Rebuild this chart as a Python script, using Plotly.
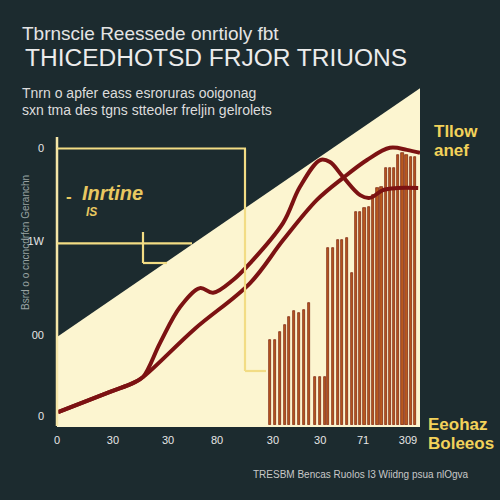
import plotly.graph_objects as go

# ---------------- data ----------------
x_ticks = [0, 15.4, 30.6, 44.1, 59.5, 72.5, 84.3, 96.7]
x_tick_labels = ["0", "30", "30", "80", "30", "30", "71", "309"]
y_ticks = [2.5, 26.5, 54.5, 82]
y_tick_labels = ["0", "00", "1W", "0"]

area_x = [0, 100]
area_y = [26, 99.6]

bar_x = [58.7, 60.1, 61.4, 62.8, 64.0, 65.4, 66.7, 68.1, 69.5, 71.1, 72.5, 73.8,
         74.7, 76.0, 77.5, 78.6, 79.8, 81.2, 82.4, 83.5, 84.7, 86.0, 87.1, 88.3,
         89.4, 90.6, 91.7, 92.9, 94.0, 95.2, 96.3, 97.5, 98.6]
bar_y = [25.1, 25.1, 27.5, 29.6, 32.0, 33.7, 33.1, 34.0, 36.1, 14.2, 14.2, 14.2,
         52.4, 52.4, 54.7, 54.7, 55.3, 45.0, 63.0, 63.0, 64.2, 64.5, 68.0, 70.1,
         70.4, 76.0, 76.0, 76.0, 79.9, 80.5, 79.9, 79.3, 79.3]

line_a_x = [0.3, 14.6, 20.9, 23.7, 28.4, 33.9, 39.4, 43.0, 48.5, 53.2, 62.3, 66.9,
            72.5, 75.2, 78.8, 83.5, 86.2, 89.8, 93.7, 99.5]
line_a_y = [3.8, 9.8, 12.4, 14.2, 24.3, 34.9, 40.5, 39.1, 42.9, 47.9, 59.8, 70.4,
            78.4, 77.8, 73.4, 68.0, 67.2, 69.5, 70.1, 70.1]
line_b_x = [0.3, 14.6, 20.9, 23.7, 38.0, 53.2, 62.3, 71.6, 78.8, 85.4, 91.7, 96.4, 100]
line_b_y = [3.8, 9.8, 12.4, 14.2, 28.5, 42.0, 54.7, 66.6, 73.1, 78.4, 82.0, 81.4, 80.5]

# ---------------- style ----------------
BG = "#1c2b2f"
CREAM = "#fcf5d0"
YEL = "#f2dc84"
GOLD = "#f2d25a"
RED = "#7c1212"
NARROW = "Liberation Sans Narrow, Liberation Sans, Arial, sans-serif"
SANS = "Liberation Sans, Arial, sans-serif"

L, R, T, B = 57, 420, 87, 425
def PX(p):
    return (p - L) / (R - L)
def PY(p):
    return (B - p) / (B - T)

fig = go.Figure()
fig.add_trace(go.Bar(x=bar_x, y=bar_y, width=0.6,
                     marker=dict(color="#b8591f", line=dict(color="#751a0c", width=0.7))))
fig.add_trace(go.Scatter(x=line_b_x, y=line_b_y, mode="lines",
                         line=dict(color=RED, width=4, shape="spline", smoothing=1.0)))
fig.add_trace(go.Scatter(x=line_a_x, y=line_a_y, mode="lines",
                         line=dict(color=RED, width=4, shape="spline", smoothing=1.0)))

# cream area (drawn below the traces) built from area data
area_path = "M {0},0 L {0},{1} L {2},{3} L {2},0 Z".format(area_x[0], area_y[0], area_x[1], area_y[1])
shapes = [dict(type="path", xref="x", yref="y", path=area_path,
               fillcolor=CREAM, line=dict(width=0), layer="below")]

def seg(x0, y0, x1, y1, color=YEL, w=2.2):
    shapes.append(dict(type="line", xref="paper", yref="paper",
                       x0=PX(x0), y0=PY(y0), x1=PX(x1), y1=PY(y1),
                       line=dict(color=color, width=w), layer="above"))
seg(57, 137, 57, 426, color="#f5e6a8", w=2.5)   # y axis line
seg(57, 148.5, 246, 148.5)
seg(245, 148.5, 245, 371)
seg(245, 371, 266, 371)
seg(57, 243.3, 192, 243.3)
seg(143, 232, 143, 263)
seg(143, 263, 167, 263)

ann = []
def txt(text, x, y, size, color, family=SANS, xanchor="left", angle=0, **kw):
    ann.append(dict(text=text, x=PX(x), y=PY(y), xref="paper", yref="paper",
                    xanchor=xanchor, yanchor="middle", showarrow=False, textangle=angle,
                    font=dict(size=size, color=color, family=family), **kw))

txt("Tbrnscie Reessede onrtioly fbt", 20, 34, 19, "#e4e4e4")
txt("THICEDHOTSD FRJOR TRIUONS", 23, 58, 24.5, "#ececec", family=NARROW)
txt("Tnrn o apfer eass esroruras ooigonag", 20, 93, 14, "#dcdcdc")
txt("sxn tma des tgns stteoler freljin gelrolets", 20, 110, 14, "#dcdcdc")
txt("Bsrd o o cncncdrfcn Geranchn", 25, 243, 10, "#9aa3a3", xanchor="center", angle=-90)
txt("<b>Tllow</b>", 432, 131, 17, GOLD, family=NARROW)
txt("<b>anef</b>", 432, 150, 17, GOLD, family=NARROW)
txt("<b>Eeohaz</b>", 426, 424, 17, GOLD, family=NARROW)
txt("<b>Boleeos</b>", 426, 443, 17, GOLD, family=NARROW)
txt("<b>-</b>", 64, 196, 17, "#e8c860", family=NARROW)
txt("<b><i>Inrtine</i></b>", 80, 193, 20, "#e8c860", family=NARROW)
txt("<b><i>IS</i></b>", 84, 212, 12, "#e8c860", family=NARROW)
txt("TRESBM Bencas Ruolos I3 Wiidng psua nlOgva", 251, 474, 10, "#c8c8c8")

fig.update_layout(
    width=500, height=500,
    paper_bgcolor=BG, plot_bgcolor=BG,
    margin=dict(l=L, r=500 - R, t=T, b=500 - B, pad=0),
    showlegend=False, bargap=0,
    shapes=shapes, annotations=ann,
    xaxis=dict(range=[0, 100], tickvals=x_ticks, ticktext=x_tick_labels, automargin=False,
               showgrid=False, zeroline=False, showline=True, linecolor=CREAM, linewidth=2,
               ticks="", tickfont=dict(size=11, color="#e6e6e6", family=SANS),
               ticklabelstandoff=4),
    yaxis=dict(range=[0, 100], tickvals=y_ticks, ticktext=y_tick_labels, automargin=False,
               showgrid=False, zeroline=False, showline=False,
               ticks="", tickfont=dict(size=11, color="#e6e6e6", family=SANS),
               ticklabelstandoff=12),
)

fig.write_html("out.html", config={"displayModeBar": False},
               post_script="document.body.style.margin='0';document.body.style.background='" + BG + "';")
